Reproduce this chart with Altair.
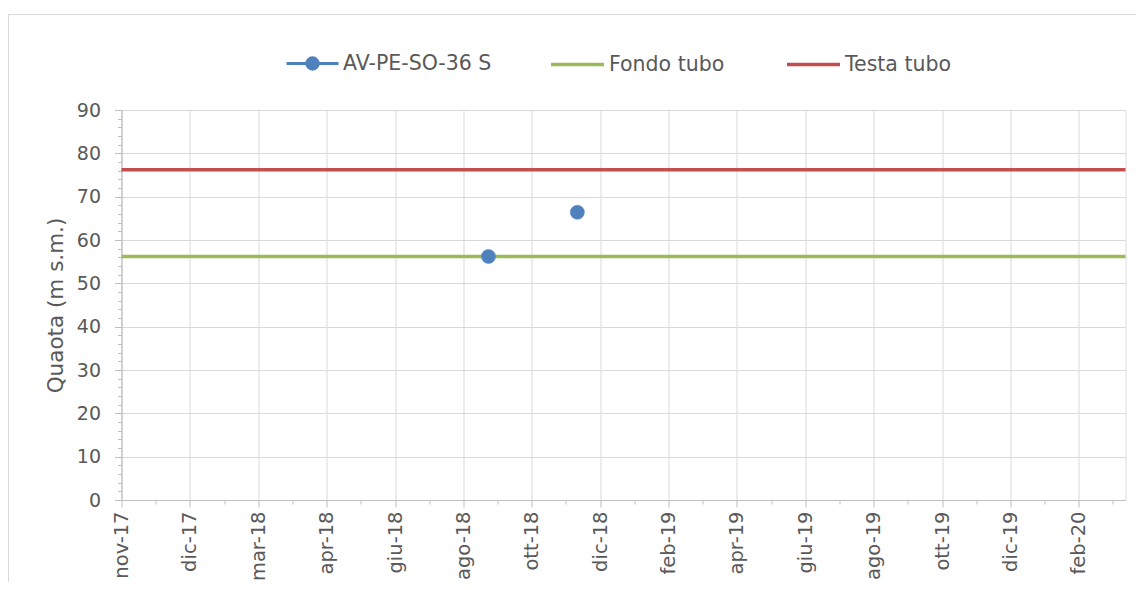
import altair as alt
import pandas as pd

# ---------------- data ----------------
axis_start = "2017-11-01"
series_name = "AV-PE-SO-36 S"
series_dates = ["2018-09-19", "2018-12-06"]
series_values = [56.2, 66.4]
series_color = "#4F81BD"

ref_names = ["Fondo tubo", "Testa tubo"]
ref_values = [56.2, 76.2]
ref_colors = ["#9BBB59", "#C0504D"]

x_tick_labels = ["nov-17", "dic-17", "mar-18", "apr-18", "giu-18", "ago-18",
                 "ott-18", "dic-18", "feb-19", "apr-19", "giu-19", "ago-19",
                 "ott-19", "dic-19", "feb-20"]
tick_step_days = 60
x_max_days = 881
y_major = list(range(0, 91, 10))
y_minor = list(range(0, 91, 2))

x_major = [i * tick_step_days for i in range(len(x_tick_labels))]
x_minor = [tick_step_days // 2 + i * tick_step_days for i in range(len(x_tick_labels))]

FONT = "DejaVu Sans"
TXT = "#595959"
GRID = "#d9d9d9"
AX = "#bfbfbf"

start = pd.Timestamp(axis_start)
pts = pd.DataFrame({
    "serie": [series_name] * len(series_dates),
    "giorni": [(pd.Timestamp(d) - start).days for d in series_dates],
    "quota": series_values,
})
refs = pd.DataFrame({"serie": ref_names, "quota": ref_values})

label_expr = "[" + ",".join("'%s'" % l for l in x_tick_labels) + "][round(datum.value/%d)]" % tick_step_days

xs = alt.Scale(domain=[0, x_max_days], nice=False, zero=False)
ys = alt.Scale(domain=[0, 90], nice=False, zero=True)

frame = alt.Chart(alt.Data(values=[{"a": 1}])).mark_rect(
    filled=False, stroke=GRID, strokeWidth=1
).encode(
    x=alt.value(-113), x2=alt.value(1100), y=alt.value(-95.5), y2=alt.value(600)
)

rules = alt.Chart(refs).mark_rule(strokeWidth=3.5).encode(
    y=alt.Y("quota:Q", scale=ys,
            axis=alt.Axis(values=y_major, title="Quaota (m s.m.)", grid=True,
                          gridColor=GRID, domainColor=AX, tickColor=AX,
                          tickSize=7, labelPadding=14, labelFontSize=19,
                          labelFont=FONT, labelColor=TXT, titleFont=FONT,
                          titleFontSize=21.5, titleColor=TXT, titleFontWeight="normal",
                          titlePadding=9, orient="left")),
    color=alt.Color("serie:N",
                    scale=alt.Scale(domain=ref_names, range=ref_colors),
                    legend=alt.Legend(orient="none", legendX=427.5, legendY=-74,
                                      direction="horizontal", title=None,
                                      symbolType="stroke", symbolSize=2809,
                                      symbolStrokeWidth=3.5, columnPadding=55,
                                      labelFontSize=20.5, labelFont=FONT,
                                      labelColor=TXT, labelOffset=3)),
)

sym_path = ("M-1,0L1,0M-0.22,0A0.22,0.22,0,1,1,0.22,0"
            "A0.22,0.22,0,1,1,-0.22,0Z")

points = alt.Chart(pts).mark_point(filled=True, size=200, opacity=1,
                                   stroke=series_color, strokeWidth=0.5).encode(
    x=alt.X("giorni:Q", scale=xs,
            axis=alt.Axis(values=x_major, labelExpr=label_expr, title=None,
                          grid=True, gridColor=GRID, domainColor=AX, tickColor=AX,
                          tickSize=7, labelAngle=270, labelPadding=4,
                          labelFontSize=19.5, labelFont=FONT, labelColor=TXT,
                          orient="bottom")),
    y=alt.Y("quota:Q", scale=ys, axis=None),
    color=alt.Color("serie:N",
                    scale=alt.Scale(domain=[series_name], range=[series_color]),
                    legend=alt.Legend(orient="none", legendX=163.5, legendY=-74,
                                      direction="horizontal", title=None,
                                      symbolType=sym_path, symbolSize=2704,
                                      symbolStrokeWidth=3,
                                      symbolStrokeColor=series_color,
                                      symbolFillColor=series_color,
                                      labelFontSize=20.5, labelFont=FONT,
                                      labelColor=TXT, labelOffset=3)),
)

minor_x = alt.Chart(pd.DataFrame({"m": x_minor})).mark_point(opacity=0).encode(
    x=alt.X("m:Q", scale=xs,
            axis=alt.Axis(values=x_minor, labels=False, grid=False, domain=False,
                          tickColor=AX, tickSize=4, title=None, orient="bottom")),
    y=alt.value(0),
)
minor_y = alt.Chart(pd.DataFrame({"m": y_minor})).mark_point(opacity=0).encode(
    y=alt.Y("m:Q", scale=ys,
            axis=alt.Axis(values=y_minor, labels=False, grid=False, domain=False,
                          tickColor=AX, tickSize=4, title=None, orient="left")),
    x=alt.value(0),
)

chart = alt.layer(frame, minor_x, minor_y, rules, points).resolve_scale(
    color="independent"
).resolve_axis(
    x="independent", y="independent"
).properties(
    width=1004, height=390,
    autosize=alt.AutoSizeParams(type="none"),
    padding={"left": 113.5, "top": 102, "right": 10, "bottom": 82},
).configure_view(stroke=GRID, strokeWidth=1).configure(background="white")

chart.save("out.html", embed_options={"renderer": "svg", "actions": False})
